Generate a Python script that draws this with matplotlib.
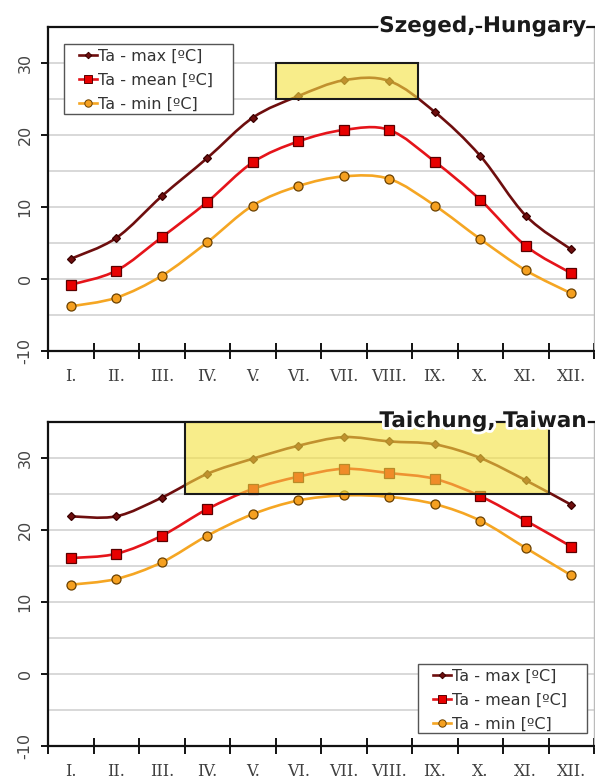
import matplotlib
matplotlib.use("Agg")
import matplotlib.pyplot as plt
from matplotlib.path import Path
from matplotlib.patches import PathPatch, Rectangle
from matplotlib.lines import Line2D
import matplotlib.patheffects as pe
import numpy as np

months = ["I.", "II.", "III.", "IV.", "V.", "VI.", "VII.", "VIII.", "IX.", "X.", "XI.", "XII."]

szeged_max = [2.8, 5.7, 11.5, 16.8, 22.4, 25.4, 27.6, 27.5, 23.2, 17.1, 8.8, 4.1]
szeged_mean = [-0.8, 1.15, 5.8, 10.7, 16.2, 19.1, 20.7, 20.7, 16.3, 11.0, 4.6, 0.8]
szeged_min = [-3.8, -2.6, 0.45, 5.1, 10.2, 12.9, 14.25, 13.9, 10.2, 5.55, 1.2, -2.0]

taichung_max = [21.9, 21.9, 24.5, 27.8, 29.9, 31.7, 32.9, 32.3, 31.9, 30.0, 26.9, 23.5]
taichung_mean = [16.1, 16.7, 19.2, 22.9, 25.7, 27.4, 28.5, 27.9, 27.1, 24.7, 21.3, 17.7]
taichung_min = [12.4, 13.2, 15.5, 19.2, 22.2, 24.1, 24.8, 24.6, 23.6, 21.3, 17.5, 13.7]

series_labels = ["Ta - max [ºC]", "Ta - mean [ºC]", "Ta - min [ºC]"]
titles = ["Szeged, Hungary", "Taichung, Taiwan"]

styles = [
    dict(color="#6E0E0E", marker="D", ms=4.5, mfc="#6E0E0E", mec="#3A0000"),
    dict(color="#E5141A", marker="s", ms=6.5, mfc="#E80000", mec="#5A0000"),
    dict(color="#F5A623", marker="o", ms=6.5, mfc="#F5A020", mec="#6A4000"),
]

W, H = 595, 778
AX_L, AX_W, AX_H = 48, 546, 324
fig = plt.figure(figsize=(W / 100, H / 100), dpi=100)


def smooth_path(xs, ys):
    pts = np.column_stack([xs, ys]).astype(float)
    n = len(pts)
    verts = [pts[0]]
    codes = [Path.MOVETO]
    for i in range(n - 1):
        p0 = pts[i - 1] if i > 0 else pts[i]
        p1 = pts[i]
        p2 = pts[i + 1]
        p3 = pts[i + 2] if i + 2 < n else pts[i + 1]
        c1 = p1 + (p2 - p0) / 6.0
        c2 = p2 - (p3 - p1) / 6.0
        verts += [c1, c2, p2]
        codes += [Path.CURVE4] * 3
    return Path(verts, codes)


def draw(ax, ax_top, data, title, box, frame_px):
    x = np.arange(len(months))
    ax.set_xlim(-0.5, 11.5)
    ax.set_ylim(-10, 35)
    for y in range(-5, 35, 5):
        ax.axhline(y, color="#D2D2D2", lw=1.2, zorder=0)
    for vals, st in zip(data, styles):
        ax.add_patch(PathPatch(smooth_path(x, vals), fill=False, edgecolor=st["color"],
                               lw=1.9, zorder=2, capstyle="round"))
        ax.plot(x, vals, linestyle="none", marker=st["marker"], ms=st["ms"],
                mfc=st["mfc"], mec=st["mec"], mew=0.9, zorder=3)
    x0, x1, y0, y1 = box
    ax.add_patch(Rectangle((x0, y0), x1 - x0, y1 - y0, facecolor="#F5E242", alpha=0.62,
                           edgecolor="none", zorder=4))
    ax.add_patch(Rectangle((x0, y0), x1 - x0, y1 - y0, facecolor="none",
                           edgecolor="#1A1A1A", lw=1.5, zorder=5))

    ax.set_yticks([-10, 0, 10, 20, 30])
    ax.set_yticklabels(["-10", "0", "10", "20", "30"], rotation=90, va="center",
                       fontsize=11.5, color="#454545")
    ax.tick_params(axis="y", direction="out", length=5, width=1.3, pad=6)
    ax.set_xticks(np.arange(-0.5, 12, 1.0))
    ax.set_xticklabels([])
    ax.tick_params(axis="x", which="major", direction="inout", length=12, width=1.3)
    ax.set_xticks(x, minor=True)
    ax.set_xticklabels(months, minor=True, fontsize=11.5, family="DejaVu Serif",
                       color="#404040")
    ax.tick_params(axis="x", which="minor", length=0, pad=12)

    for s in ["left", "bottom", "top"]:
        ax.spines[s].set_color("#111111")
        ax.spines[s].set_linewidth(1.6)
    ax.spines["right"].set_color("#BBBBBB")
    ax.spines["right"].set_linewidth(1.0)

    t = ax.text(0.985, 1 - 5 / AX_H, title, transform=ax.transAxes, ha="right",
                va="baseline", fontsize=15.5, fontweight="bold", color="#1A1A1A", zorder=10)
    t.set_path_effects([pe.withStroke(linewidth=4, foreground="white")])

    # legend frame (pixel box) and entries
    fx0, fy0, fx1, fy1 = frame_px
    def ax_coords(px, py):
        return (px - AX_L) / AX_W, 1 - (py - ax_top) / AX_H
    bx0, by1 = ax_coords(fx0, fy1)
    bx1, by0 = ax_coords(fx1, fy0)
    ax.add_patch(Rectangle((bx0, by1), bx1 - bx0, by0 - by1, transform=ax.transAxes,
                           facecolor="white", edgecolor="#555555", lw=1.0, zorder=6,
                           clip_on=False))
    handles = [Line2D([], [], color=st["color"], lw=1.9, marker=st["marker"],
                      ms=st["ms"] - 1.2, mfc=st["mfc"], mec=st["mec"], mew=0.7)
               for st in styles]
    leg = ax.legend(handles, series_labels, fontsize=11.5, handlelength=1.1,
                    handletextpad=0.1, labelspacing=0.55, borderpad=0,
                    frameon=False, borderaxespad=0, loc="upper left",
                    bbox_to_anchor=ax_coords(fx0 + 15, fy0 + 5))
    for txt in leg.get_texts():
        txt.set_color("#333333")
    leg.set_zorder(7)


ax1_top = 27
ax1 = fig.add_axes([AX_L / W, 1 - (ax1_top + AX_H) / H, AX_W / W, AX_H / H])
draw(ax1, ax1_top, [szeged_max, szeged_mean, szeged_min], titles[0], (4.52, 7.63, 25, 30),
     (64, 44, 233, 114))

ax2_top = 422
ax2 = fig.add_axes([AX_L / W, 1 - (ax2_top + AX_H) / H, AX_W / W, AX_H / H])
draw(ax2, ax2_top, [taichung_max, taichung_mean, taichung_min], titles[1], (2.5, 10.5, 25, 35),
     (418, 664, 587, 733))

fig.savefig("out.png", dpi=100)
